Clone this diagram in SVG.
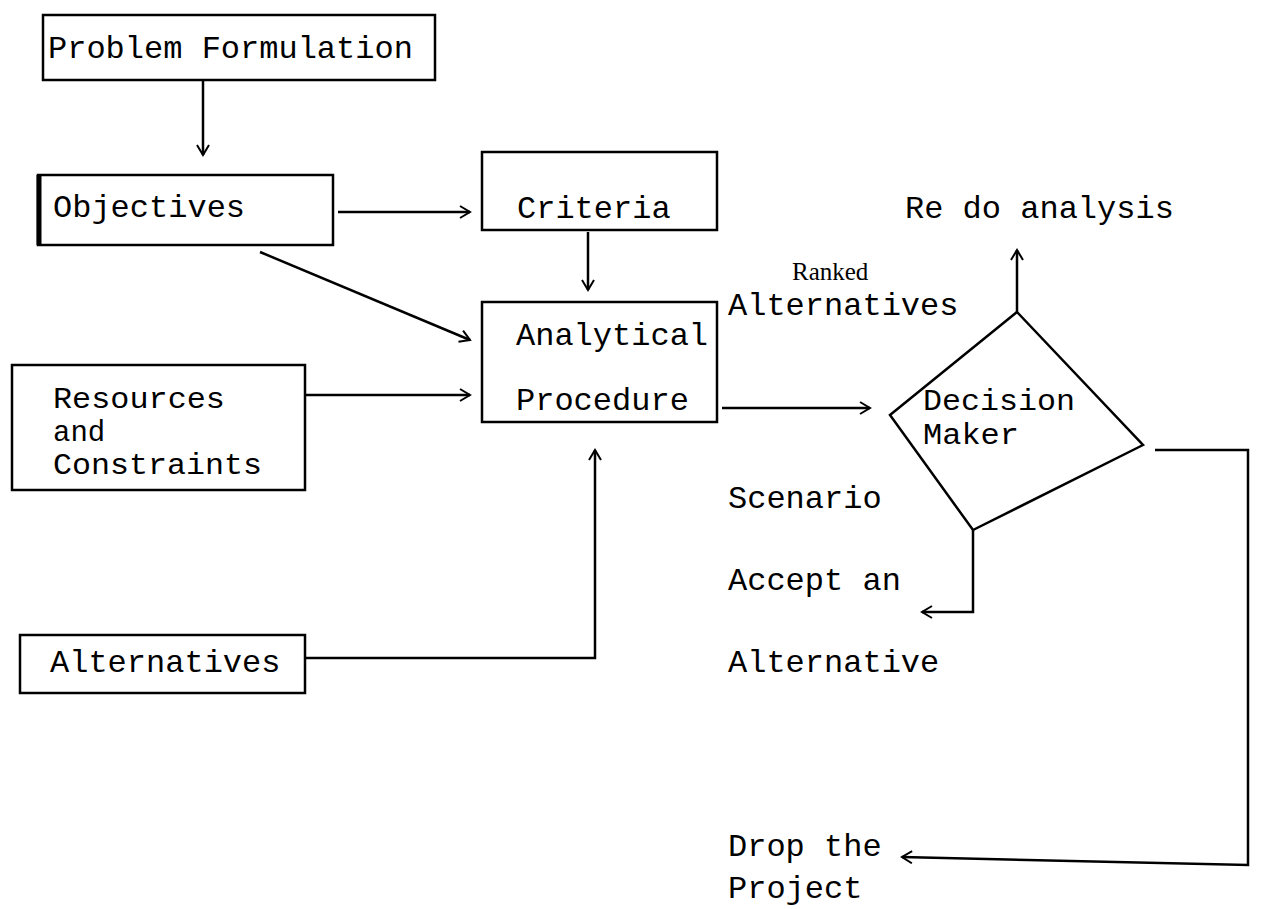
<svg xmlns="http://www.w3.org/2000/svg" width="1262" height="909" viewBox="0 0 1262 909">
<style>
.box{fill:none;stroke:#000;stroke-width:2.5}
.t{font-family:"Liberation Mono","Courier New",monospace;font-size:32px;fill:#000}
.m{font-family:"Liberation Mono","Courier New",monospace;font-size:29px;fill:#000}
.s{font-family:"Liberation Serif","Times New Roman",serif;font-size:25px;fill:#000}
.c{fill:none;stroke:#000;stroke-width:2.5}
</style>
<defs>
<marker id="ah" viewBox="0 0 14 14" refX="12" refY="7" markerWidth="14" markerHeight="14" markerUnits="userSpaceOnUse" orient="auto">
<path d="M2,1 L12,7 L2,13" fill="none" stroke="#000" stroke-width="2"/>
</marker>
</defs>
<rect width="1262" height="909" fill="#fff"/>
<g id="problem">
<rect class="box" x="43" y="15" width="392" height="65"/>
<text class="t" x="48" y="58">Problem Formulation</text>
</g>
<g id="objectives">
<rect class="box" x="38" y="175" width="295" height="70"/>
<line x1="39" y1="175" x2="39" y2="245" stroke="#000" stroke-width="5"/>
<text class="t" x="53" y="217">Objectives</text>
</g>
<g id="criteria">
<rect class="box" x="482" y="152" width="235" height="78"/>
<text class="t" x="517" y="218">Criteria</text>
</g>
<g id="analytical">
<rect class="box" x="482" y="302" width="235" height="120"/>
<text class="t" x="516" y="345">Analytical</text>
<text class="t" x="516" y="410">Procedure</text>
</g>
<g id="resources">
<rect class="box" x="12" y="365" width="293" height="125"/>
<text class="m" x="53" y="408" textLength="172" lengthAdjust="spacingAndGlyphs">Resources</text>
<text class="m" x="53" y="441">and</text>
<text class="m" x="53" y="474" textLength="209" lengthAdjust="spacingAndGlyphs">Constraints</text>
</g>
<g id="alternatives">
<rect class="box" x="20" y="635" width="285" height="58"/>
<text class="t" x="50" y="672">Alternatives</text>
</g>
<g id="decision">
<polygon class="box" points="1017,312 1143,445 973,530 890,415"/>
<text class="m" x="923" y="410" textLength="152" lengthAdjust="spacingAndGlyphs">Decision</text>
<text class="m" x="923" y="444" textLength="96" lengthAdjust="spacingAndGlyphs">Maker</text>
</g>
<g id="labels">
<text class="t" x="905" y="218">Re do analysis</text>
<text class="s" x="792" y="280">Ranked</text>
<text class="t" x="728" y="315">Alternatives</text>
<text class="t" x="728" y="508">Scenario</text>
<text class="t" x="728" y="590">Accept an</text>
<text class="t" x="728" y="672">Alternative</text>
<text class="t" x="728" y="856">Drop the</text>
<text class="t" x="728" y="898">Project</text>
</g>
<g id="connectors">
<line class="c" x1="203" y1="80" x2="203" y2="155" marker-end="url(#ah)"/>
<line class="c" x1="338" y1="212" x2="470" y2="212" marker-end="url(#ah)"/>
<line class="c" x1="588" y1="232" x2="588" y2="290" marker-end="url(#ah)"/>
<line class="c" x1="260" y1="252" x2="470" y2="340" marker-end="url(#ah)"/>
<line class="c" x1="305" y1="395" x2="470" y2="395" marker-end="url(#ah)"/>
<polyline class="c" points="305,658 595,658 595,450" marker-end="url(#ah)"/>
<line class="c" x1="722" y1="408" x2="870" y2="408" marker-end="url(#ah)"/>
<line class="c" x1="1017" y1="312" x2="1017" y2="250" marker-end="url(#ah)"/>
<polyline class="c" points="973,530 973,612 922,612" marker-end="url(#ah)"/>
<polyline class="c" points="1155,450 1248,450 1248,865 902,857" marker-end="url(#ah)"/>
</g>
</svg>
